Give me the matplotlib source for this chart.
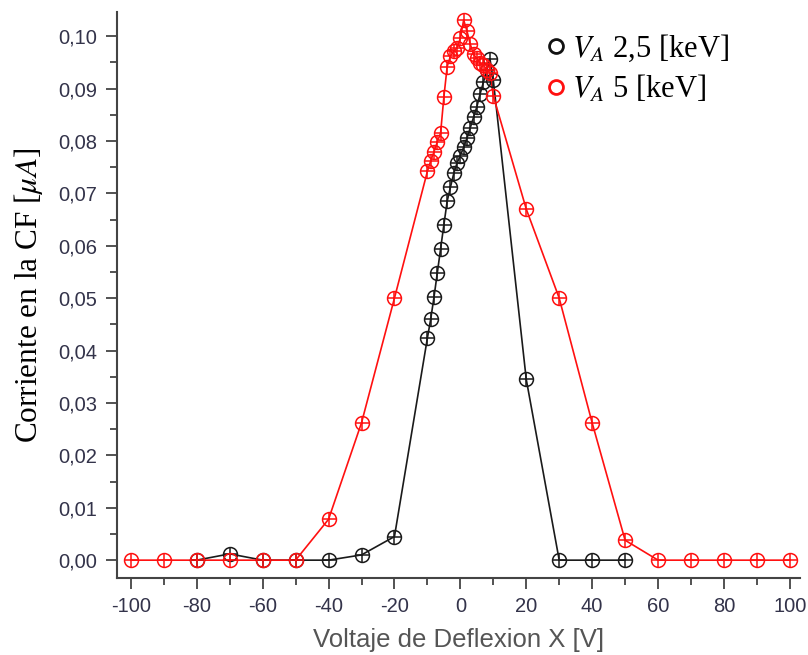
import matplotlib.pyplot as plt
from matplotlib.ticker import MultipleLocator, FuncFormatter

#---datos---#

# V_A = 2,5 keV (negro)
x_25 = [-80, -70, -60, -50, -40, -30, -20,
        -10, -9, -8, -7, -6, -5, -4, -3, -2, -1, 0, 1, 2, 3, 4, 5, 6, 7, 8, 9, 10,
        20, 30, 40, 50]
y_25 = [0.0, 0.0012, 0.0, 0.0, 0.0, 0.001, 0.0045,
        0.0424, 0.046, 0.0502, 0.0548, 0.0594, 0.064, 0.0685, 0.0712, 0.0738, 0.0758, 0.0772,
        0.0788, 0.0805, 0.0825, 0.0845, 0.0865, 0.089, 0.0912, 0.0935, 0.0956, 0.0916,
        0.0345, 0.0, 0.0, 0.0]

# V_A = 5 keV (rojo)
x_5 = [-100, -90, -80, -70, -60, -50, -40, -30, -20,
       -10, -9, -8, -7, -6, -5, -4, -3, -2, -1, 0, 1, 2, 3, 4, 5, 6, 7, 8, 9, 10,
       20, 30, 40, 50, 60, 70, 80, 90, 100]
y_5 = [0.0, 0.0, 0.0, 0.0, 0.0, 0.0, 0.0078, 0.0262, 0.050,
       0.0742, 0.0762, 0.0779, 0.0798, 0.0815, 0.0884, 0.0942, 0.0962, 0.0971, 0.0978, 0.0996,
       0.1031, 0.101, 0.0985, 0.0965, 0.0958, 0.0948, 0.0945, 0.0935, 0.093, 0.0886,
       0.067, 0.050, 0.0262, 0.0038, 0.0, 0.0, 0.0, 0.0, 0.0]

plt.rcParams['mathtext.fontset'] = 'stix'

fig = plt.figure(figsize=(8.08, 6.55), dpi=100)
ax = fig.add_axes([0.1448, 0.1176, 0.845, 0.864])

#---curvas con marcador circulo + cruz---#
for xs, ys, col in [(x_25, y_25, '#1a1a1a'), (x_5, y_5, '#ff1010')]:
    ax.plot(xs, ys, '-', color=col, lw=1.2, zorder=2)
    ax.plot(xs, ys, 'o', ms=10, mfc='none', mec=col, mew=1.1, zorder=3)
    ax.plot(xs, ys, '+', ms=10, mec=col, mew=1.1, zorder=3)

#---leyenda manual---#
h1, = ax.plot([], [], 'o', ms=10, mfc='none', mec='#111111', mew=2)
h2, = ax.plot([], [], 'o', ms=10, mfc='none', mec='#ff1010', mew=2)
ax.legend([h1, h2], ['$V_A$ 2,5 [keV]', '$V_A$ 5 [keV]'],
          loc='upper left', bbox_to_anchor=(0.629, 0.963), frameon=False,
          prop={'family': 'Liberation Serif', 'size': 22},
          handlelength=0.6, handletextpad=0.25, labelspacing=0.3, borderaxespad=0,
          borderpad=0)

#---ejes---#
ax.set_xlim(-104.2, 103)
ax.set_ylim(-0.0034, 0.1046)
ax.xaxis.set_major_locator(MultipleLocator(20))
ax.xaxis.set_minor_locator(MultipleLocator(10))
ax.yaxis.set_major_locator(MultipleLocator(0.01))
ax.yaxis.set_minor_locator(MultipleLocator(0.005))
ax.yaxis.set_major_formatter(FuncFormatter(lambda v, p: ('%.2f' % v).replace('.', ',')))
ax.xaxis.set_major_formatter(FuncFormatter(lambda v, p: '%d' % v))

for s in ['top', 'right']:
    ax.spines[s].set_visible(False)
for s in ['left', 'bottom']:
    ax.spines[s].set_color('#444444')
    ax.spines[s].set_linewidth(1.5)

ax.tick_params(which='major', direction='out', length=8, width=1.3, color='#444444',
               labelsize=14.5, labelcolor='#33334a', pad=6)
ax.tick_params(which='minor', direction='out', length=5, width=1.3, color='#444444')
for lab in ax.get_xticklabels() + ax.get_yticklabels():
    lab.set_family('Liberation Sans')

ax.set_xlabel('Voltaje de Deflexion X [V]', family='Liberation Sans', fontsize=18.5,
              color='#555555', labelpad=8)
ax.set_ylabel('Corriente en la CF [$\\mu A$]', family='Liberation Serif', fontsize=22.5,
              color='black', labelpad=10)

fig.savefig('out.png', dpi=100)
